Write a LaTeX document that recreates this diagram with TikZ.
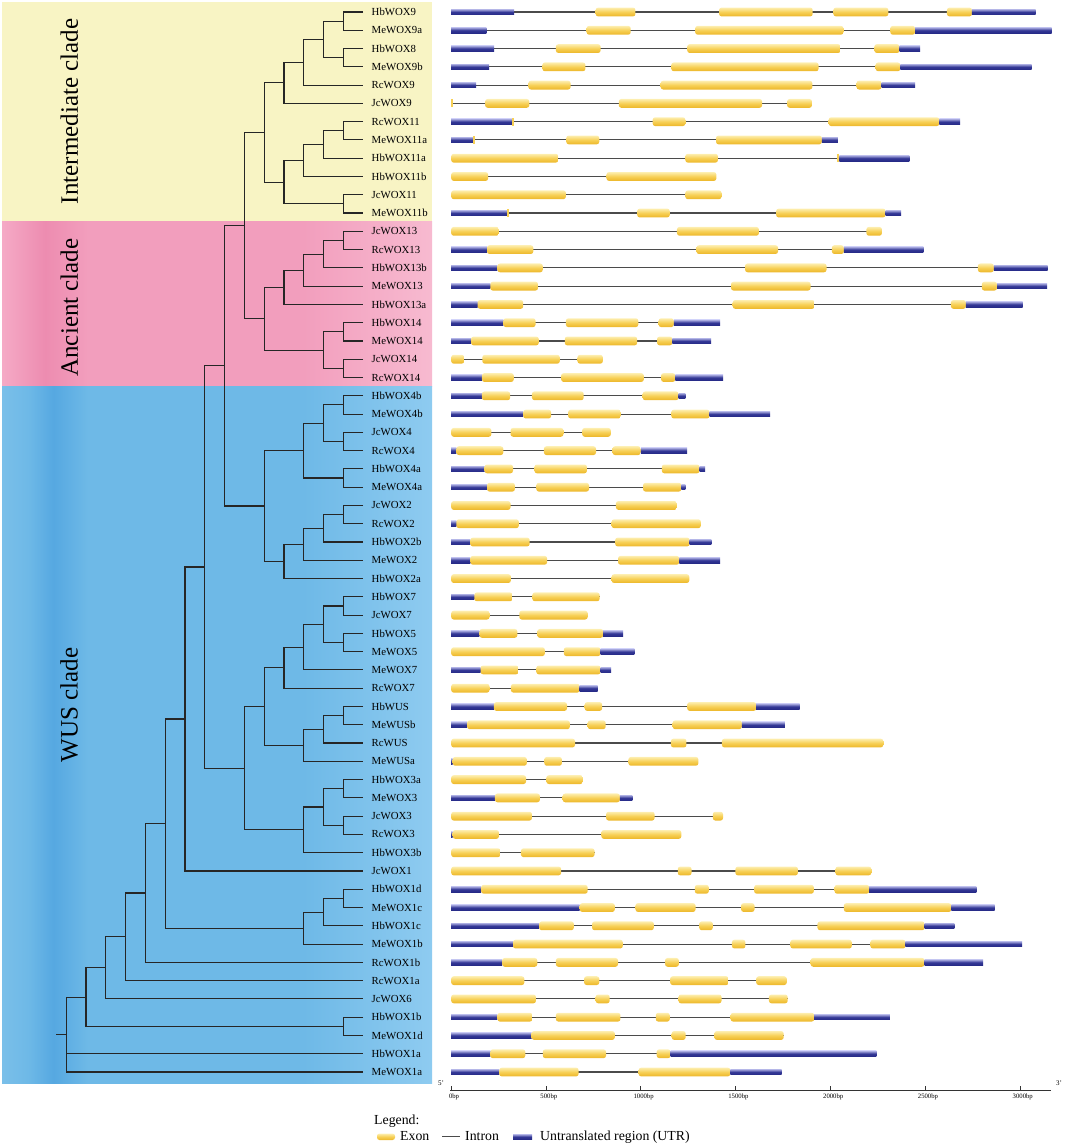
\documentclass[tikz,border=0pt]{standalone}
\usepackage{fontspec}
\setmainfont{Liberation Serif}
\usetikzlibrary{calc}

\definecolor{interbg}{RGB}{248,244,196}
\definecolor{ancL}{RGB}{245,170,198}
\definecolor{ancD}{RGB}{237,140,176}
\definecolor{ancM}{RGB}{242,158,189}
\definecolor{ancR}{RGB}{247,186,208}
\definecolor{wusL}{RGB}{122,191,233}
\definecolor{wusD}{RGB}{86,168,225}
\definecolor{wusM}{RGB}{110,185,231}
\definecolor{wusR}{RGB}{142,203,240}
\definecolor{exonT}{RGB}{253,238,175}
\definecolor{exonM}{RGB}{247,208,86}
\definecolor{exonB}{RGB}{236,182,40}
\definecolor{utrT}{RGB}{172,174,226}
\definecolor{utrM}{RGB}{52,56,150}
\definecolor{utrB}{RGB}{38,42,135}
\definecolor{intronc}{RGB}{75,75,75}

\pgfdeclarehorizontalshading{ancband}{100bp}{color(0bp)=(ancL); color(25bp)=(ancL); color(30bp)=(ancD); color(35bp)=(ancM); color(60bp)=(ancM); color(75bp)=(ancR); color(100bp)=(ancR)}
\pgfdeclarehorizontalshading{wusband}{100bp}{color(0bp)=(wusL); color(25bp)=(wusL); color(28bp)=(wusM); color(31bp)=(wusD); color(35bp)=(wusM); color(60bp)=(wusM); color(75bp)=(wusR); color(100bp)=(wusR)}

% internal node of the tree: name, level, two children
\newcommand{\clade}[4]{%
  \path let \p1=(#3), \p2=(#4) in ({363.2pt-19.8pt*#2},{(\y1+\y2)/2}) coordinate (#1);
  \draw[branch] (#3) -| (#1) |- (#4);}

% gene model: row, length (bp), segments kind/start/end
\newcommand{\gene}[3]{%
  \pgfmathsetmacro{\gy}{12+(#1-1)*18.276}
  \draw[intron] (0,\gy) -- (#2,\gy);
  \foreach \sk/\sa/\sb in {#3}{%
    \if\sk U\shade[utr] (\sa,\gy-2.8) rectangle (\sb,\gy+2.8);\fi
    \if\sk E\shade[exon] (\sa,\gy-4.4) rectangle (\sb,\gy+4.4);\fi
    \if\sk T\fill[exontip] (\sa,\gy-4) rectangle (\sb,\gy+4);\fi
  }}

\begin{document}
\begin{tikzpicture}[x=1pt, y=-1pt,
  branch/.style={line width=1.1pt, black!85},
  leaf/.style={anchor=west, inner xsep=8.5pt, inner ysep=1pt, font=\fontsize{10.8}{12}\selectfont},
  cladelabel/.style={rotate=90, inner sep=0pt, font=\fontsize{25}{30}\selectfont},
  intron/.style={line width=1.1pt, intronc},
  exon/.style={rounded corners=2.5pt, top color=exonT, bottom color=exonB, middle color=exonM},
  utr/.style={top color=utrT, bottom color=utrB, middle color=utrM},
  exontip/.style={fill=exonM},
  axisline/.style={line width=0.8pt, black!80},
  bptick/.style={anchor=north, inner sep=1pt, font=\fontsize{6.7}{8}\selectfont},
  endlab/.style={inner sep=0pt, font=\fontsize{7}{8}\selectfont},
  legendtext/.style={anchor=base west, inner sep=0pt, font=\fontsize{13.8}{16}\selectfont}]
\useasboundingbox (0,0) rectangle (1065,1148);

% clade backgrounds
\fill[interbg] (2,2) rectangle (432,221);
\shade[shading=ancband] (2,221) rectangle (432,386);
\shade[shading=wusband] (2,386) rectangle (432,1083);

\node[cladelabel] (interlab) at (69.2,111.5) {Intermediate clade};
\node[cladelabel] (anclab) at (69.2,307.5) {Ancient clade};
\node[cladelabel] (wuslab) at (69.2,705) {WUS clade};

% leaves
\foreach \gname [count=\i] in {HbWOX9,MeWOX9a,HbWOX8,MeWOX9b,RcWOX9,JcWOX9,RcWOX11,MeWOX11a,HbWOX11a,HbWOX11b,JcWOX11,MeWOX11b,
  JcWOX13,RcWOX13,HbWOX13b,MeWOX13,HbWOX13a,HbWOX14,MeWOX14,JcWOX14,RcWOX14,
  HbWOX4b,MeWOX4b,JcWOX4,RcWOX4,HbWOX4a,MeWOX4a,JcWOX2,RcWOX2,HbWOX2b,MeWOX2,HbWOX2a,
  HbWOX7,JcWOX7,HbWOX5,MeWOX5,MeWOX7,RcWOX7,HbWUS,MeWUSb,RcWUS,MeWUSa,
  HbWOX3a,MeWOX3,JcWOX3,RcWOX3,HbWOX3b,JcWOX1,HbWOX1d,MeWOX1c,HbWOX1c,MeWOX1b,
  RcWOX1b,RcWOX1a,JcWOX6,HbWOX1b,MeWOX1d,HbWOX1a,MeWOX1a}
  \node[leaf] (\gname) at (363,{12+(\i-1)*18.276}) {\gname};

% intermediate clade
\clade{a1}{1}{HbWOX9}{MeWOX9a}
\clade{a2}{1}{HbWOX8}{MeWOX9b}
\clade{a3}{2}{a1}{a2}
\clade{a4}{3}{a3}{RcWOX9}
\clade{a5}{4}{a4}{JcWOX9}
\clade{a6}{1}{RcWOX11}{MeWOX11a}
\clade{a7}{2}{a6}{HbWOX11a}
\clade{a8}{3}{a7}{HbWOX11b}
\clade{a9}{1}{JcWOX11}{MeWOX11b}
\clade{a10}{4}{a8}{a9}
\clade{inter}{5}{a5}{a10}
% ancient clade
\clade{b1}{1}{JcWOX13}{RcWOX13}
\clade{b2}{2}{b1}{HbWOX13b}
\clade{b3}{3}{b2}{MeWOX13}
\clade{b4}{4}{b3}{HbWOX13a}
\clade{b5}{1}{HbWOX14}{MeWOX14}
\clade{b6}{1}{JcWOX14}{RcWOX14}
\clade{b7}{2}{b5}{b6}
\clade{anc}{5}{b4}{b7}
\clade{c1}{6}{inter}{anc}
% WUS clade
\clade{d1}{1}{HbWOX4b}{MeWOX4b}
\clade{d2}{1}{JcWOX4}{RcWOX4}
\clade{d3}{2}{d1}{d2}
\clade{d4}{1}{HbWOX4a}{MeWOX4a}
\clade{d5}{3}{d3}{d4}
\clade{d6}{1}{JcWOX2}{RcWOX2}
\clade{d7}{2}{d6}{HbWOX2b}
\clade{d8}{3}{d7}{MeWOX2}
\clade{d9}{4}{d8}{HbWOX2a}
\clade{d10}{5}{d5}{d9}
\clade{c2}{7}{c1}{d10}
\clade{e1}{1}{HbWOX7}{JcWOX7}
\clade{e2}{1}{HbWOX5}{MeWOX5}
\clade{e3}{2}{e1}{e2}
\clade{e4}{3}{e3}{MeWOX7}
\clade{e5}{4}{e4}{RcWOX7}
\clade{e6}{1}{HbWUS}{MeWUSb}
\clade{e7}{2}{e6}{RcWUS}
\clade{e8}{3}{e7}{MeWUSa}
\clade{e9}{5}{e5}{e8}
\clade{f1}{1}{HbWOX3a}{MeWOX3}
\clade{f2}{1}{JcWOX3}{RcWOX3}
\clade{f3}{2}{f1}{f2}
\clade{f4}{3}{f3}{HbWOX3b}
\clade{e10}{6}{e9}{f4}
\clade{c3}{8}{c2}{e10}
\clade{c4}{9}{c3}{JcWOX1}
\clade{g1}{1}{HbWOX1d}{MeWOX1c}
\clade{g2}{2}{g1}{HbWOX1c}
\clade{g3}{3}{g2}{MeWOX1b}
\clade{c5}{10}{c4}{g3}
\clade{c6}{11}{c5}{RcWOX1b}
\clade{c7}{12}{c6}{RcWOX1a}
\clade{c8}{13}{c7}{JcWOX6}
\clade{g4}{1}{HbWOX1b}{MeWOX1d}
\clade{c9}{14}{c8}{g4}
\clade{root}{15}{c9}{MeWOX1a}
\draw[branch] (root) |- (HbWOX1a);
\coordinate (base) at ($(root)+(-10.2,0)$);
\draw[branch] (base) -- (root);

% gene structures, 1 unit = 1 bp
\begin{scope}[xshift=451.2pt, x=0.18957pt]
\gene{1}{3083}{U/0/332, E/762/972, E/1413/1907, E/2016/2306, E/2615/2747, U/2747/3083}
\gene{2}{3167}{U/0/185, E/714/947, E/1287/2069, E/2316/2447, U/2447/3167}
\gene{3}{2474}{U/0/227, E/552/788, E/1245/2054, E/2232/2365, U/2365/2474}
\gene{4}{3062}{U/0/200, E/481/708, E/1161/1938, E/2239/2369, U/2369/3062}
\gene{5}{2447}{U/0/132, E/407/630, E/1105/1905, E/2138/2270, U/2270/2447}
\gene{6}{1903}{T/0/8, E/179/412, E/884/1640, E/1772/1903}
\gene{7}{2684}{U/0/321, T/321/332, E/1063/1235, E/1991/2575, U/2575/2684}
\gene{8}{2039}{U/0/116, T/116/128, E/607/781, E/1397/1955, U/1955/2039}
\gene{9}{2417}{E/0/565, E/1235/1407, T/2037/2048, U/2048/2417}
\gene{10}{1399}{E/0/195, E/819/1399}
\gene{11}{1426}{E/0/605, E/1235/1426}
\gene{12}{2373}{U/0/294, T/294/307, E/981/1153, E/1714/2291, U/2291/2373}
\gene{13}{2272}{E/0/252, E/1191/1623, E/2190/2272}
\gene{14}{2491}{U/0/189, E/189/433, E/1294/1724, E/2008/2071, U/2071/2491}
\gene{15}{3146}{U/0/244, E/244/483, E/1550/1980, E/2778/2862, U/2862/3146}
\gene{16}{3144}{U/0/206, E/206/458, E/1476/1896, E/2799/2879, U/2879/3144}
\gene{17}{3014}{U/0/139, E/139/380, E/1485/1917, E/2636/2715, U/2715/3014}
\gene{18}{1418}{U/0/275, E/275/445, E/605/987, E/1094/1174, U/1174/1418}
\gene{19}{1371}{U/0/105, E/105/462, E/599/981, E/1086/1166, U/1166/1371}
\gene{20}{800}{E/0/69, E/164/573, E/666/800}
\gene{21}{1434}{U/0/162, E/162/330, E/580/1016, E/1107/1182, U/1182/1434}
\gene{22}{1235}{U/0/162, E/162/311, E/426/699, E/1010/1199, U/1199/1235}
\gene{23}{1682}{U/0/380, E/380/527, E/617/895, E/1161/1363, U/1363/1682}
\gene{24}{842}{E/0/212, E/313/592, E/691/842}
\gene{25}{1245}{U/0/27, E/27/275, E/489/764, E/851/1000, U/1000/1245}
\gene{26}{1340}{U/0/176, E/176/326, E/439/716, E/1111/1310, U/1310/1340}
\gene{27}{1235}{U/0/189, E/189/336, E/449/727, E/1012/1214, U/1214/1235}
\gene{28}{1191}{E/0/313, E/869/1191}
\gene{29}{1317}{U/0/27, E/27/357, E/846/1317}
\gene{30}{1373}{U/0/101, E/101/414, E/865/1258, U/1258/1373}
\gene{31}{1418}{U/0/101, E/101/506, E/880/1203, U/1203/1418}
\gene{32}{1256}{E/0/315, E/846/1256}
\gene{33}{783}{U/0/122, E/122/323, E/428/783}
\gene{34}{720}{E/0/202, E/359/720}
\gene{35}{907}{U/0/149, E/149/349, E/454/802, U/802/907}
\gene{36}{966}{E/0/494, E/594/788, U/788/966}
\gene{37}{844}{U/0/155, E/155/355, E/449/788, U/788/844}
\gene{38}{773}{E/0/202, E/315/678, U/678/773}
\gene{39}{1838}{U/0/225, E/225/611, E/704/796, E/1245/1609, U/1609/1838}
\gene{40}{1760}{U/0/84, E/84/626, E/720/815, E/1168/1533, U/1533/1760}
\gene{41}{2279}{E/0/653, E/1159/1241, E/1428/2279}
\gene{42}{1304}{U/0/8, E/8/399, E/491/584, E/935/1304}
\gene{43}{695}{E/0/395, E/502/695}
\gene{44}{956}{U/0/231, E/231/468, E/588/890, U/890/956}
\gene{45}{1434}{E/0/426, E/817/1073, E/1380/1434}
\gene{46}{1214}{U/0/8, E/8/252, E/792/1214}
\gene{47}{756}{E/0/260, E/368/756}
\gene{48}{2216}{E/0/580, E/1195/1268, E/1499/1829, E/2027/2216}
\gene{49}{2770}{U/0/158, E/158/720, E/1285/1359, E/1598/1913, E/2022/2205, U/2205/2770}
\gene{50}{2867}{U/0/678, E/678/863, E/972/1289, E/1529/1600, E/2071/2638, U/2638/2867}
\gene{51}{2654}{U/0/464, E/464/647, E/743/1069, E/1308/1380, E/1932/2497, U/2497/2654}
\gene{52}{3011}{U/0/326, E/326/905, E/1481/1552, E/1789/2113, E/2211/2396, U/2396/3011}
\gene{53}{2806}{U/0/269, E/269/454, E/552/880, E/1128/1201, E/1896/2497, U/2497/2806}
\gene{54}{1770}{E/0/386, E/701/781, E/1155/1464, E/1609/1770}
\gene{55}{1775}{E/0/447, E/762/836, E/1199/1426, E/1676/1775}
\gene{56}{2314}{U/0/244, E/244/428, E/552/893, E/1079/1153, E/1474/1915, U/1915/2314}
\gene{57}{1754}{U/0/424, E/424/863, E/1163/1237, E/1388/1754}
\gene{58}{2243}{U/0/206, E/206/391, E/483/817, E/1084/1157, U/1157/2243}
\gene{59}{1743}{U/0/254, E/254/672, E/989/1472, U/1472/1743}

% scale bar
\draw[axisline] (-6,1090) -- (3164,1090);
\foreach \bpv in {0,500,...,3000}{
  \draw[axisline] (\bpv,1090) -- (\bpv,1086);
  \node[bptick] at (\bpv+15,1093) {\bpv bp};}
\end{scope}
\node[endlab] (five) at (441,1083) {5'};
\node[endlab] (three) at (1059,1083) {3'};

% legend
\node[legendtext] (legtitle) at (374,1124.3) {Legend:};
\shade[exon] (377,1133.5) rectangle (395,1140);
\node[legendtext] (legexon) at (400,1140.7) {Exon};
\draw[intron] (442,1136.7) -- (460,1136.7);
\node[legendtext] (legintron) at (465,1140.7) {Intron};
\shade[utr] (513,1134.2) rectangle (532,1139.2);
\node[legendtext] (legutr) at (540,1140.7) {Untranslated region (UTR)};
\end{tikzpicture}
\end{document}
